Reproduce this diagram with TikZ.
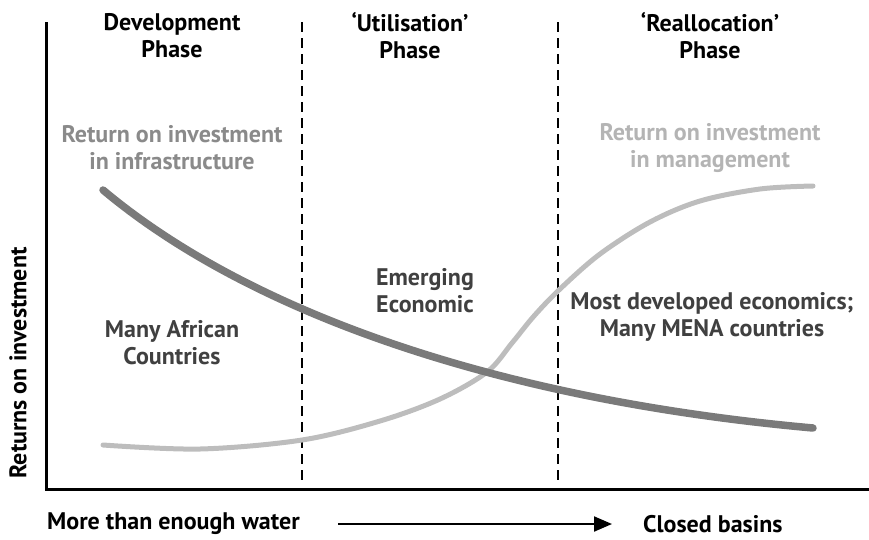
\documentclass[tikz,border=0pt]{standalone}
\usepackage{fontspec}
\setmainfont{PT Sans}
\usetikzlibrary{arrows.meta}
\definecolor{infra}{HTML}{8A8A8A}
\definecolor{mgmt}{HTML}{B4B4B4}
\definecolor{darkcurve}{HTML}{7A7A7A}
\definecolor{lightcurve}{HTML}{BDBDBD}
\definecolor{country}{HTML}{404040}
\tikzset{
  lbl/.style={font=\bfseries\fontsize{24}{27}\selectfont, align=center, inner sep=0pt},
  phasehead/.style={lbl, text=black},
  infralbl/.style={lbl, text=infra},
  mgmtlbl/.style={lbl, text=mgmt},
  countrylbl/.style={lbl, text=country},
  axisline/.style={line width=3pt},
  phasediv/.style={line width=2.4pt, dash pattern=on 10pt off 6pt},
  dcurve/.style={line width=7.5pt, darkcurve, line cap=round},
  lcurve/.style={line width=5pt, lightcurve, line cap=round},
}
\begin{document}
\begin{tikzpicture}[x=1pt,y=-1pt]
\useasboundingbox (0,0) rectangle (869,539);
% axes
\coordinate (ytop) at (46,22);
\coordinate (origin) at (46,489);
\coordinate (xend) at (869,489);
\draw[axisline] (ytop) -- (origin) -- (xend);
% phase dividers
\coordinate (d1top) at (302,22);
\coordinate (d1bot) at (302,484);
\coordinate (d2top) at (558,22);
\coordinate (d2bot) at (558,484);
\draw[phasediv] (d1top) -- (d1bot);
\draw[phasediv] (d2top) -- (d2bot);
% curves
\draw[lcurve] plot[smooth, tension=0.55] coordinates {(103,445) (200,449) (302,440) (380,421) (440,399) (487,372) (512,343) (534,316) (560,289) (600,254) (650,222) (700,201) (760,189) (813,186)};
\coordinate (dstart) at (103,190);
\coordinate (dend) at (813,428);
\draw[dcurve] (dstart) .. controls (240,305) and (480,398) .. (dend);
% headers
\node[phasehead] (h1) at (172,36) {Development\\Phase};
\node[phasehead] (h2) at (410,36) {‘Utilisation’\\Phase};
\node[phasehead] (h3) at (710,36) {‘Reallocation’\\Phase};
% curve labels
\node[infralbl] (infra) at (172,148) {Return on investment\\in infrastructure};
\node[mgmtlbl] (mgmt) at (710,148) {Return on investment\\in management};
% region labels
\node[countrylbl] (africa) at (172,343) {Many African\\Countries};
\node[countrylbl] (emerg) at (425,291) {Emerging\\Economic};
\node[countrylbl] (mena) at (712,317) {Most developed economics;\\Many MENA countries};
% y label
\node[phasehead, rotate=90] (ylab) at (18,363) {Returns on investment};
% x labels
\node[phasehead, anchor=west] (xleft) at (47,524) {More than enough water};
\node[phasehead, anchor=west] (xright) at (643,524) {Closed basins};
\coordinate (arrs) at (338,524);
\coordinate (arre) at (612,524);
\draw[line width=2pt, -{Triangle[length=18pt,width=15pt]}] (arrs) -- (arre);
\end{tikzpicture}
\end{document}
